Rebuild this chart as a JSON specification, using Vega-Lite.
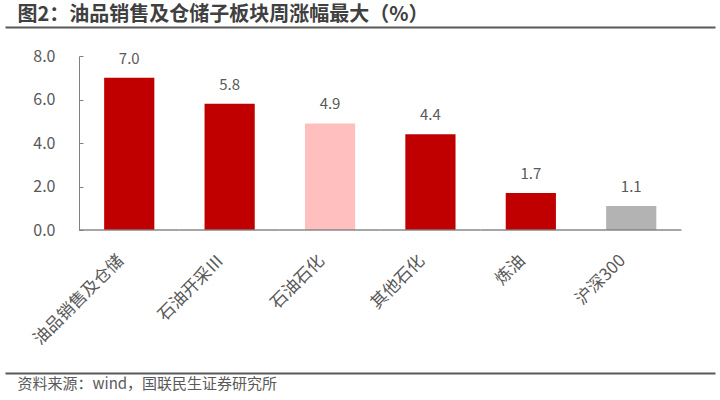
{
  "$schema": "https://vega.github.io/schema/vega-lite/v6.json",
  "width": 710,
  "height": 174,
  "autosize": {"type": "none"},
  "padding": {"top": 56, "left": 5, "right": 5, "bottom": 170},
  "background": "white",
  "data": {
    "values": [
      {"name": "油品销售及仓储", "value": 7.0},
      {"name": "石油开采Ⅲ", "value": 5.8},
      {"name": "石油石化", "value": 4.9},
      {"name": "其他石化", "value": 4.4},
      {"name": "炼油", "value": 1.7},
      {"name": "沪深300", "value": 1.1}
    ]
  },
  "resolve": {"axis": {"x": "independent"}},
  "layer": [
    {
      "mark": {"type": "bar", "width": {"band": 0.5}},
      "encoding": {
        "x": {
          "field": "name", "type": "nominal", "sort": null,
          "scale": {"paddingInner": 0, "paddingOuter": 0.536, "align": 0.688},
          "axis": {
            "orient": "bottom", "title": null, "domain": false, "ticks": false,
            "labelAngle": -45, "labelFontSize": 17, "labelColor": "#595959",
            "labelFont": "Noto Sans CJK SC", "labelPadding": 22, "labelOffset": -14
          }
        },
        "y": {"field": "value", "type": "quantitative", "title": null,
              "scale": {"domain": [0, 8], "nice": false}},
        "color": {
          "field": "name", "type": "nominal", "legend": null,
          "scale": {
            "domain": ["油品销售及仓储", "石油开采Ⅲ", "石油石化", "其他石化", "炼油", "沪深300"],
            "range": ["#C00000", "#C00000", "#FFBFBF", "#C00000", "#C00000", "#B3B3B3"]
          }
        }
      }
    },
    {
      "mark": {"type": "text", "baseline": "alphabetic", "dy": -14, "fontSize": 15,
               "color": "#595959", "font": "Noto Sans CJK SC"},
      "encoding": {
        "x": {
          "field": "name", "type": "nominal", "sort": null,
          "axis": {
            "orient": "top", "offset": 29, "domain": true, "domainColor": "#595959",
            "domainWidth": 2, "labels": false, "ticks": false, "grid": false,
            "title": "图2：油品销售及仓储子板块周涨幅最大（%）",
            "titleFont": "Noto Sans CJK SC", "titleFontSize": 20, "titleFontWeight": "bold",
            "titleColor": "#404040", "titleAnchor": "start", "titleAlign": "left",
            "titleX": 12, "titlePadding": 3
          }
        },
        "y": {"field": "value", "type": "quantitative", "title": null},
        "text": {"field": "value", "type": "quantitative", "format": ".1f"}
      }
    },
    {
      "mark": {"type": "tick", "thickness": 2, "color": "#808080", "width": {"band": 1}},
      "encoding": {
        "x": {
          "field": "name", "type": "nominal", "sort": null,
          "axis": {
            "orient": "bottom", "offset": 143, "domain": true, "domainColor": "#595959",
            "domainWidth": 2, "labels": false, "ticks": false, "grid": false,
            "title": "资料来源：wind，国联民生证券研究所",
            "titleFont": "Noto Sans CJK SC", "titleFontSize": 15, "titleFontWeight": "normal",
            "titleColor": "#595959", "titleAnchor": "start", "titleAlign": "left",
            "titleX": 12, "titlePadding": 3
          }
        },
        "y": {"datum": 0, "type": "quantitative"}
      }
    }
  ],
  "config": {
    "view": {"stroke": null},
    "axisY": {
      "offset": -74, "grid": false, "domainColor": "#808080", "domainWidth": 1,
      "tickColor": "#808080", "tickSize": -4, "labelPadding": 28, "labelFontSize": 16,
      "labelColor": "#595959", "labelFont": "Noto Sans CJK SC", "format": ".1f",
      "values": [0, 2, 4, 6, 8]
    }
  }
}
